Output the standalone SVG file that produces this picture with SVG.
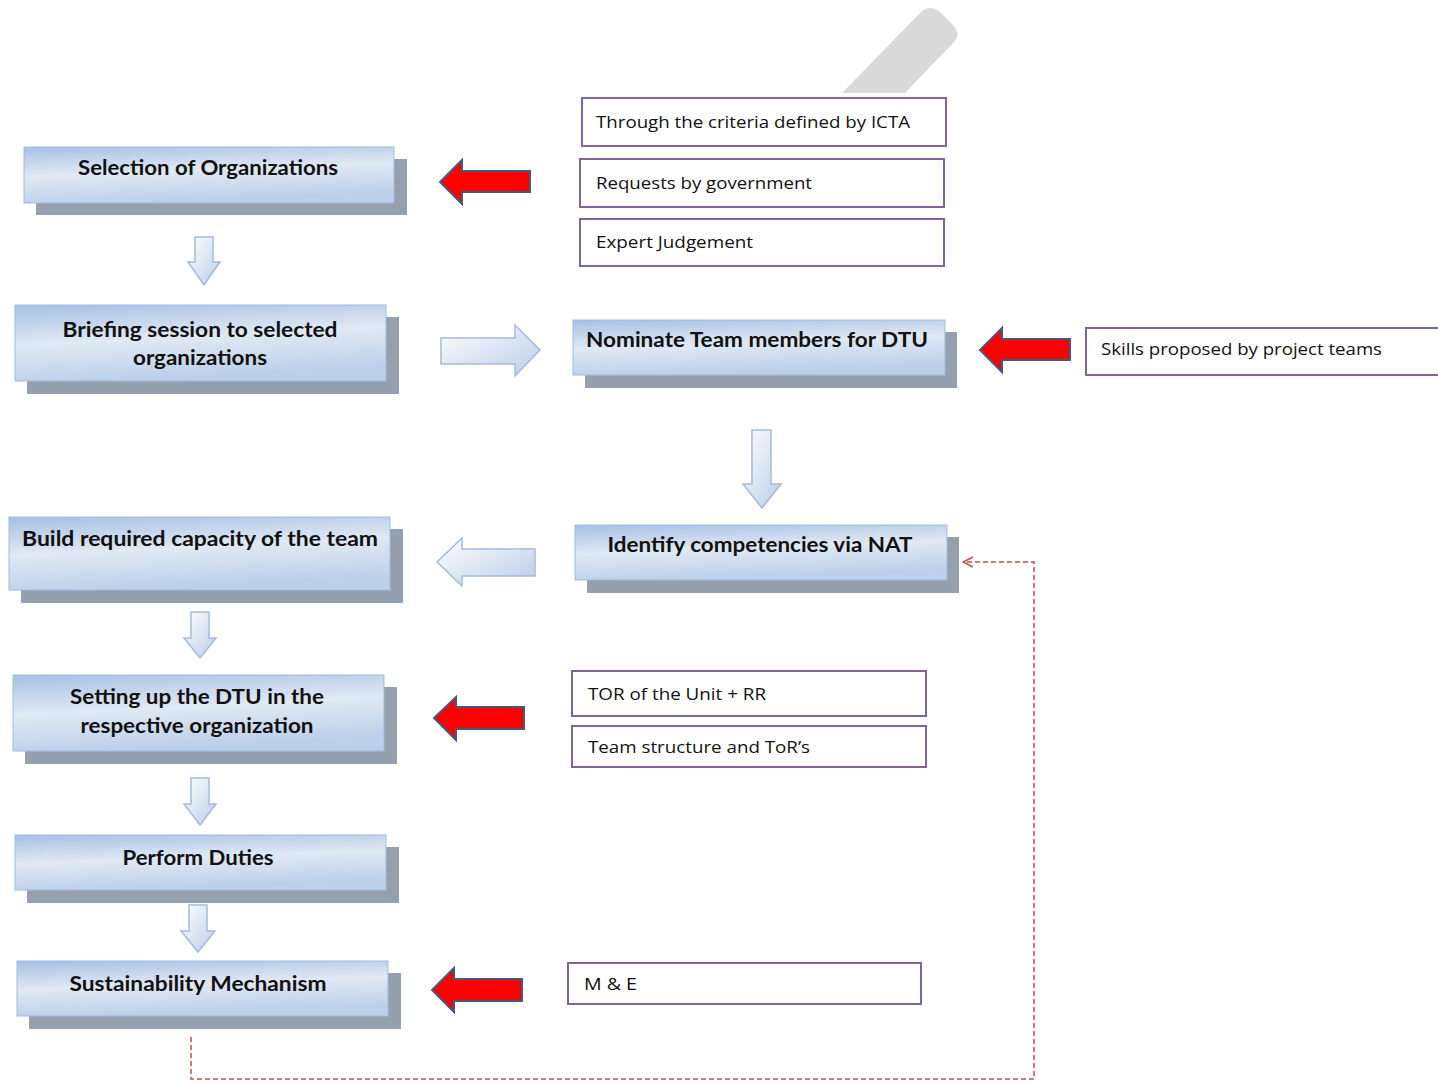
<svg xmlns="http://www.w3.org/2000/svg" width="1438" height="1081" viewBox="0 0 1438 1081">
<defs>
<linearGradient id="boxg" x1="0" y1="0" x2="0.25" y2="1">
<stop offset="0" stop-color="#a6c0e3"/>
<stop offset="0.5" stop-color="#e0e9f4"/>
<stop offset="1" stop-color="#bcd0ea"/>
</linearGradient>
<linearGradient id="arrg" x1="0" y1="0" x2="1" y2="1">
<stop offset="0" stop-color="#ffffff"/>
<stop offset="1" stop-color="#b9cce8"/>
</linearGradient>
<marker id="open" markerWidth="12" markerHeight="12" refX="11" refY="6" orient="auto" markerUnits="userSpaceOnUse">
<path d="M1,1 L11,6 L1,11" fill="none" stroke="#c0504d" stroke-width="1.5"/>
</marker>
</defs>
<style>
.shadow{fill:#95a0ae}
.face{fill:url(#boxg);stroke:#9fbbe0;stroke-width:1}
.t{font-family:Lato,"Liberation Sans",sans-serif;font-weight:bold;font-size:20px;fill:#111;text-anchor:middle}
.pbox{fill:#fff;stroke:#8064a2;stroke-width:2}
.pt{font-family:"Open Sans","Liberation Sans",sans-serif;font-size:16px;fill:#111}
.red{fill:#ff0000;stroke:#3e5b82;stroke-width:2;stroke-linejoin:miter}
.light{fill:url(#arrg);stroke:#a3bcdc;stroke-width:1.5}
.dash{fill:none;stroke:#c0504d;stroke-width:1.5;stroke-dasharray:5 3}
</style>
<rect width="1438" height="1081" fill="#fff"/>
<path d="M842,93 L921,12 Q930,4 940,12 L953,25 Q961,34 955,41 L905,93 Z" fill="#d9d9d9"/>

<g id="n-selection">
<rect class="shadow" x="36" y="159" width="371" height="56"/>
<rect class="face" x="24" y="147" width="370" height="56"/>
<text class="t" x="208" y="175" textLength="260" lengthAdjust="spacingAndGlyphs">Selection of Organizations</text>
</g>
<g id="n-briefing">
<rect class="shadow" x="27" y="317" width="372" height="77"/>
<rect class="face" x="15" y="305" width="371" height="76"/>
<text class="t" x="200" y="337" textLength="275" lengthAdjust="spacingAndGlyphs">Briefing session to selected</text>
<text class="t" x="200" y="365" textLength="134" lengthAdjust="spacingAndGlyphs">organizations</text>
</g>
<g id="n-nominate">
<rect class="shadow" x="585" y="332" width="372" height="56"/>
<rect class="face" x="573" y="320" width="372" height="55"/>
<text class="t" x="757" y="347" textLength="342" lengthAdjust="spacingAndGlyphs">Nominate Team members for DTU</text>
</g>
<g id="n-identify">
<rect class="shadow" x="587" y="537" width="372" height="56"/>
<rect class="face" x="575" y="525" width="372" height="55"/>
<text class="t" x="760" y="552" textLength="305" lengthAdjust="spacingAndGlyphs">Identify competencies via NAT</text>
</g>
<g id="n-build">
<rect class="shadow" x="21" y="529" width="382" height="74"/>
<rect class="face" x="9" y="517" width="381" height="73"/>
<text class="t" x="200" y="546" textLength="356" lengthAdjust="spacingAndGlyphs">Build required  capacity of the team</text>
</g>
<g id="n-setting">
<rect class="shadow" x="25" y="687" width="372" height="77"/>
<rect class="face" x="13" y="675" width="371" height="76"/>
<text class="t" x="197" y="704" textLength="254" lengthAdjust="spacingAndGlyphs">Setting up the DTU in the</text>
<text class="t" x="197" y="733" textLength="233" lengthAdjust="spacingAndGlyphs">respective organization</text>
</g>
<g id="n-perform">
<rect class="shadow" x="27" y="847" width="372" height="56"/>
<rect class="face" x="15" y="835" width="371" height="55"/>
<text class="t" x="198" y="865" textLength="151" lengthAdjust="spacingAndGlyphs">Perform Duties</text>
</g>
<g id="n-sustain">
<rect class="shadow" x="29" y="973" width="372" height="56"/>
<rect class="face" x="17" y="961" width="371" height="55"/>
<text class="t" x="198" y="991" textLength="257" lengthAdjust="spacingAndGlyphs">Sustainability Mechanism</text>
</g>

<g id="n-criteria">
<rect class="pbox" x="582" y="98" width="364" height="48"/>
<text class="pt" x="596" y="128" textLength="314" lengthAdjust="spacingAndGlyphs">Through the criteria defined by ICTA</text>
</g>
<g id="n-requests">
<rect class="pbox" x="580" y="159" width="364" height="48"/>
<text class="pt" x="596" y="189" textLength="216" lengthAdjust="spacingAndGlyphs">Requests by government</text>
</g>
<g id="n-expert">
<rect class="pbox" x="580" y="219" width="364" height="47"/>
<text class="pt" x="596" y="248" textLength="157" lengthAdjust="spacingAndGlyphs">Expert Judgement</text>
</g>
<g id="n-skills">
<rect class="pbox" x="1086" y="328" width="360" height="47"/>
<text class="pt" x="1101" y="355" textLength="281" lengthAdjust="spacingAndGlyphs">Skills proposed by project teams</text>
</g>
<g id="n-tor">
<rect class="pbox" x="572" y="671" width="354" height="45"/>
<text class="pt" x="588" y="700" textLength="178" lengthAdjust="spacingAndGlyphs">TOR of the Unit + RR</text>
</g>
<g id="n-team">
<rect class="pbox" x="572" y="726" width="354" height="41"/>
<text class="pt" x="588" y="753" textLength="222" lengthAdjust="spacingAndGlyphs">Team structure and ToR’s</text>
</g>
<g id="n-me">
<rect class="pbox" x="568" y="963" width="353" height="41"/>
<text class="pt" x="584" y="990" textLength="53" lengthAdjust="spacingAndGlyphs">M &amp; E</text>
</g>

<g id="connectors">
<path class="red" d="M530,171 H462 V160 L440,182 L462,204 V192 H530 Z"/>
<path class="red" d="M1070,339 H1002 V328 L980,350 L1002,372 V360 H1070 Z"/>
<path class="red" d="M524,707 H456 V697 L434,718 L456,740 V729 H524 Z"/>
<path class="red" d="M522,979 H454 V968 L432,990 L454,1012 V1001 H522 Z"/>

<path class="light" d="M195,237 H213 V262 H220 L204,285 L188,262 H195 Z"/>
<path class="light" d="M441,338 H515 V325 L540,350 L515,376 V364 H441 Z"/>
<path class="light" d="M752,430 H771 V484 H781 L762,508 L743,484 H752 Z"/>
<path class="light" d="M535,549 H462 V538 L437,562 L462,586 V576 H535 Z"/>
<path class="light" d="M191,612 H209 V638 H216 L200,658 L184,638 H191 Z"/>
<path class="light" d="M191,778 H209 V804 H216 L200,825 L184,804 H191 Z"/>
<path class="light" d="M189,905 H207 V931 H215 L198,952 L181,931 H189 Z"/>

<path class="dash" d="M191,1037 V1079 H1034 V562 H963" marker-end="url(#open)"/>
</g>
</svg>
